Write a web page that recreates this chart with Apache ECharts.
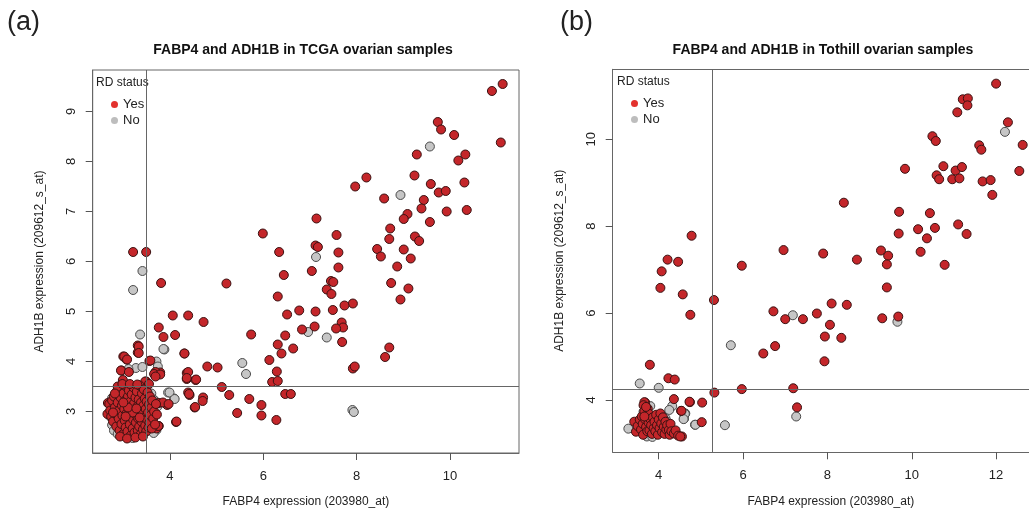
<!DOCTYPE html>
<html>
<head>
<meta charset="utf-8">
<script src="https://cdn.jsdelivr.net/npm/echarts@6/dist/echarts.min.js"></script>
<style>html,body{margin:0;padding:0;background:#fff}#c{width:1029px;height:514px}</style>
</head>
<body>
<div id="c"></div>
<script>
// ---- Data ----
const titleA = 'FABP4 and ADH1B in TCGA ovarian samples';
const titleB = 'FABP4 and ADH1B in Tothill ovarian samples';
const xName = 'FABP4 expression (203980_at)';
const yName = 'ADH1B expression (209612_s_at)';
const legendNames = ['Yes', 'No'];
const xTicksA = [4, 6, 8, 10];
const yTicksA = [3, 4, 5, 6, 7, 8, 9];
const xTicksB = [4, 6, 8, 10, 12];
const yTicksB = [4, 6, 8, 10];
const cutA = [3.5, 3.5];   // FABP4 cut, ADH1B cut
const cutB = [5.26, 4.25];

// Panel (a) TCGA, RD status Yes
const aYes = [
[11.13,9.55],[10.90,9.41],[11.09,8.38],[9.74,8.79],[9.81,8.64],[10.09,8.53],[9.29,8.14],[10.18,8.02],[10.33,8.14],
[9.24,7.72],[9.59,7.55],[10.31,7.58],[9.76,7.38],[9.91,7.41],[10.36,7.03],[9.93,7.00],[9.44,7.23],[9.39,7.06],[9.57,6.79],
[8.21,7.68],[7.97,7.50],[8.59,7.26],[9.09,6.95],[9.01,6.85],[8.72,6.66],[8.70,6.45],[9.25,6.50],[9.34,6.41],[8.44,6.25],
[8.52,6.10],[9.01,6.24],[9.16,6.06],[8.87,5.90],[8.74,5.57],[9.11,5.46],[8.94,5.24],[8.70,4.28],[8.61,4.09],[7.92,5.16],
[7.74,5.12],[7.68,4.78],[7.71,4.68],[7.69,4.39],[7.56,4.66],[7.49,5.03],[7.61,5.88],[7.61,6.18],[7.57,6.53],[7.14,6.86],
[7.12,6.32],[7.17,6.29],[7.04,5.81],[7.36,5.44],[7.45,5.61],[7.50,5.59],[7.46,5.35],[7.12,5.00],[7.10,4.70],[6.83,4.64],
[6.77,5.02],[6.51,4.94],[6.44,5.73],[6.34,6.19],[5.99,6.56],[6.31,5.30],[6.47,4.52],[6.64,4.26],[6.31,4.34],[6.39,4.16],
[6.13,4.03],[6.29,3.80],[6.19,3.59],[6.31,3.61],[6.47,3.35],[6.59,3.35],[5.96,3.13],[5.96,2.92],[6.28,2.83],[7.92,3.86],
[7.96,3.90],[5.70,3.25],[5.74,4.54],[5.21,5.56],[5.11,3.49],[5.27,3.33],[5.44,2.97],[5.02,3.88],[4.80,3.90],[4.72,4.79],
[4.39,4.92],[4.06,4.92],[4.11,4.53],[4.31,4.16],[4.36,3.77],[4.36,3.65],[4.55,3.63],[4.39,3.38],[4.42,3.33],[4.71,3.28],
[4.70,3.21],[4.53,3.08],[4.13,2.79],[3.94,3.13],[3.81,5.57],[3.76,4.68],[3.86,4.49],[3.79,3.78],[3.69,3.79],[3.56,4.01],
[3.49,6.19],[3.21,6.19],[3.31,4.32],[3.31,4.18],[3.00,4.10],[3.07,4.04],[2.96,3.82],[3.49,3.60],[3.76,3.17],[3.76,2.71],
[3.71,2.66],[2.99,3.63],[3.33,4.30],[3.33,4.17],[3.02,4.10],[3.08,4.04],[4.31,4.16],[2.95,3.82],[3.12,3.79],[3.58,4.02],
[3.66,3.75],[3.79,3.74],[3.69,3.70],[3.47,3.60],[3.55,3.55],[4.39,3.79],[4.36,3.67],[4.56,3.64],[3.85,3.18],[3.97,3.15],
[4.41,3.35],[4.54,3.09],[4.14,2.80],[3.75,2.71],[2.67,3.17],[2.66,2.95],
[2.70,3.15],[2.72,3.02],[2.74,2.90],[2.76,3.22],[2.78,2.80],[2.80,3.30],[2.82,3.08],[2.84,2.95],[2.85,2.70],[2.86,3.40],
[2.88,3.18],[2.90,2.86],[2.91,3.02],[2.92,2.62],[2.94,3.28],[2.95,3.45],[2.96,2.75],[2.97,3.12],[2.98,2.92],[3.00,3.36],
[3.00,2.55],[3.02,3.05],[3.03,2.82],[3.04,3.22],[3.05,2.68],[3.06,3.50],[3.07,2.96],[3.08,3.14],[3.09,2.60],[3.10,3.30],
[3.11,2.88],[3.12,3.42],[3.13,3.02],[3.14,2.74],[3.15,3.20],[3.16,2.52],[3.17,2.94],[3.18,3.34],[3.19,3.08],[3.20,2.66],
[3.21,2.84],[3.22,3.48],[3.23,3.16],[3.24,2.58],[3.25,3.00],[3.26,3.28],[3.27,2.78],[3.28,2.92],[3.29,3.40],[3.30,3.10],
[3.31,2.62],[3.32,2.86],[3.33,3.24],[3.34,2.70],[3.35,3.52],[3.36,3.02],[3.37,2.54],[3.38,3.18],[3.39,2.80],[3.40,3.36],
[3.41,2.95],[3.42,2.64],[3.43,3.12],[3.44,3.44],[3.45,2.88],[3.46,3.26],[3.47,2.72],[3.48,3.05],[3.49,2.60],[3.50,3.20],
[3.51,2.84],[3.52,3.38],[3.53,2.98],[3.54,2.68],[3.55,3.14],[3.56,2.78],[3.57,3.30],[3.58,2.92],[3.60,3.08],[3.61,2.66],
[3.62,3.22],[3.64,2.86],[3.66,3.00],[3.68,2.74],[3.70,3.15],[3.72,2.94],[2.88,3.50],[2.98,3.55],[3.14,3.55],[3.30,3.54],
[2.78,2.98],[2.82,3.36],[2.93,2.50],[3.08,2.46],[3.26,2.48],[3.42,2.50],[3.20,2.98],[3.10,3.08],[3.00,3.18],[3.35,2.88],
[3.05,2.90],[3.28,3.06]
];
// Panel (a) TCGA, RD status No
const aNo = [
[9.57,8.30],[8.94,7.33],[7.36,4.48],[7.13,6.09],[6.96,4.59],[7.91,3.03],[7.94,2.99],[5.55,3.97],[5.63,3.75],
[3.88,4.24],[3.86,4.25],[3.96,3.38],[4.09,3.26],[3.71,4.00],[3.74,3.90],[3.41,5.81],[3.21,5.43],[3.36,4.54],
[3.27,3.87],[3.41,3.89],[3.11,3.85],[3.66,3.23],[3.73,3.10],[3.71,2.63],[3.99,3.38],[4.10,3.25],[3.65,3.23],
[2.72,2.90],[2.76,2.73],[2.76,3.27],[2.80,2.62],[2.84,3.12],[2.88,2.55],[2.95,2.68],[3.00,2.52],[3.04,2.78],
[3.10,2.58],[3.15,3.10],[3.20,2.47],[3.18,2.70],[3.30,2.56],[3.36,2.66],[3.45,2.58],[3.52,2.75],[3.65,2.57],
[3.60,3.36],[3.48,3.46],[2.90,3.20],[3.38,3.00]
];
// Panel (b) Tothill, RD status Yes
const bYes = [
[12.00,11.28],[11.21,10.92],[11.33,10.94],[11.32,10.78],[11.08,10.62],[12.28,10.39],[12.63,9.87],[10.49,10.07],[10.57,9.96],
[11.60,9.86],[11.65,9.76],[9.84,9.32],[10.75,9.38],[11.04,9.28],[11.19,9.36],[10.59,9.17],[10.65,9.08],[10.96,9.08],
[11.13,9.10],[11.68,9.03],[11.87,9.06],[12.55,9.27],[11.91,8.72],[9.70,8.33],[10.43,8.30],[8.39,8.54],[10.15,7.93],
[10.55,7.96],[11.10,8.04],[9.69,7.83],[11.30,7.82],[10.36,7.72],[10.21,7.41],[10.78,7.11],[9.27,7.44],[9.44,7.32],
[9.41,7.12],[9.41,6.59],[8.70,7.23],[7.90,7.37],[6.96,7.45],[5.97,7.09],[9.30,5.88],[9.68,5.92],[8.10,6.22],[8.46,6.19],
[6.72,6.04],[7.00,5.86],[7.42,5.86],[7.75,5.99],[8.06,5.73],[7.94,5.46],[8.33,5.43],[6.76,5.24],[6.48,5.07],[7.93,4.89],
[5.31,6.30],[5.97,4.25],[5.32,4.17],[7.19,4.27],[7.28,3.83],[4.78,7.78],[4.21,7.23],[4.46,7.18],[4.07,6.96],[4.04,6.58],
[4.57,6.43],[4.75,5.96],[3.79,4.81],[4.23,4.50],[4.38,4.47],[4.36,4.02],[4.74,3.95],[5.03,3.94],[5.02,3.49],[4.53,3.75],
[4.55,3.16],[4.54,3.75],[4.73,3.96],[3.68,3.94],[3.66,3.95],
[3.42,3.50],[3.46,3.27],[3.50,3.40],[3.55,3.55],[3.58,3.32],[3.60,3.62],[3.62,3.45],[3.63,3.20],[3.64,3.88],[3.66,3.74],
[3.68,3.55],[3.70,3.38],[3.72,3.62],[3.73,3.28],[3.74,3.80],[3.76,3.48],[3.77,3.68],[3.78,3.30],[3.80,3.56],[3.82,3.42],
[3.84,3.22],[3.86,3.60],[3.88,3.35],[3.90,3.50],[3.92,3.28],[3.94,3.66],[3.96,3.42],[3.98,3.20],[4.00,3.55],[4.02,3.35],
[4.04,3.69],[4.06,3.46],[4.08,3.26],[4.10,3.60],[4.12,3.38],[4.14,3.22],[4.16,3.50],[4.18,3.32],[4.20,3.42],[4.24,3.31],
[4.26,3.20],[4.28,3.45],[4.30,3.28],[4.36,3.23],[4.40,3.30],[4.46,3.18],[4.51,3.16],[3.70,3.84],[3.66,3.62]
];
// Panel (b) Tothill, RD status No
const bNo = [
[12.21,10.17],[9.66,5.80],[7.18,5.95],[5.71,5.26],[7.26,3.62],[5.57,3.42],[3.55,4.38],[4.00,4.28],[4.86,3.43],
[4.63,3.69],[4.60,3.57],[3.28,3.34],[3.64,3.73],[3.80,3.86],[4.32,3.86],[4.25,3.77],[4.62,3.68],[4.59,3.56],
[4.87,3.43],[3.72,3.16],[4.16,3.58],[3.90,3.42],[4.02,3.30],[3.55,3.38],[3.85,3.15],[4.20,3.50]
];

// ---- Chart ----
const FONT = '"Liberation Sans", Arial, sans-serif';
const red = {color: '#c4262a', borderColor: '#3a1212', borderWidth: 1, opacity: 1};
const gray = {color: '#c6c6c6', borderColor: '#4a4a4a', borderWidth: 1, opacity: 1};

function xAxisFor(gi, min, max, ticks, namePad) {
  return {
    gridIndex: gi, type: 'value', min: min, max: max,
    axisLine: {show: true, lineStyle: {color: '#666'}},
    splitLine: {show: false},
    axisTick: {show: true, customValues: ticks, length: 7, lineStyle: {color: '#555'}},
    axisLabel: {customValues: ticks, margin: 17, fontSize: 13, color: '#222', fontFamily: FONT},
    name: xName, nameLocation: 'middle', nameGap: 43,
    nameTextStyle: {fontSize: 12, color: '#222', fontFamily: FONT, padding: [0, 0, 0, namePad]}
  };
}
function topBorderAxis(gi, min, max) {
  return {
    gridIndex: gi, type: 'value', position: 'top', min: min, max: max,
    axisLine: {show: true, onZero: false, lineStyle: {color: '#666'}},
    axisTick: {show: false}, axisLabel: {show: false}, splitLine: {show: false}
  };
}
function yAxisFor(gi, min, max, ticks) {
  return {
    gridIndex: gi, type: 'value', min: min, max: max,
    axisLine: {show: true, lineStyle: {color: '#666'}},
    splitLine: {show: false},
    axisTick: {show: true, customValues: ticks, length: 7, lineStyle: {color: '#555'}},
    axisLabel: {customValues: ticks, rotate: 90, margin: 15, fontSize: 13, color: '#222', fontFamily: FONT},
    name: yName, nameLocation: 'middle', nameGap: 47,
    nameTextStyle: {fontSize: 12, color: '#222', fontFamily: FONT}
  };
}
function legendFor(left, top) {
  return {
    left: left, top: top, orient: 'vertical', icon: 'circle', itemWidth: 7, itemHeight: 7, itemGap: 3,
    selectedMode: false,
    textStyle: {fontSize: 13, color: '#222', fontFamily: FONT, padding: [0, 0, 0, 0]},
    data: [
      {name: legendNames[0], itemStyle: {color: '#e3322e', borderWidth: 0}},
      {name: legendNames[1], itemStyle: {color: '#bdbdbd', borderWidth: 0}}
    ]
  };
}
function cutSeries(xi, cut) {
  return {
    type: 'scatter', xAxisIndex: xi, yAxisIndex: xi, data: [], silent: true, z: 10,
    markLine: {
      silent: true, symbol: ['none', 'none'], animation: false,
      label: {show: false},
      lineStyle: {color: '#666', type: 'solid', width: 1},
      data: [{xAxis: cut[0]}, {yAxis: cut[1]}]
    }
  };
}

const chart = echarts.init(document.getElementById('c'), null, {renderer: 'canvas'});
chart.setOption({
  animation: false,
  backgroundColor: '#fff',
  textStyle: {fontFamily: FONT},
  grid: [
    {left: 92.7, top: 70, width: 426.3, height: 383, show: true, borderColor: '#666', borderWidth: 1, containLabel: false},
    {left: 612.7, top: 69.3, right: 0, height: 383, show: false, containLabel: false}
  ],
  xAxis: [
    xAxisFor(0, 2.344, 11.48, xTicksA, 0),
    xAxisFor(1, 2.909, 12.78, xTicksB, 20),
    topBorderAxis(1, 2.909, 12.78)
  ],
  yAxis: [yAxisFor(0, 2.17, 9.83, yTicksA), yAxisFor(1, 2.796, 11.61, yTicksB)],
  legend: [legendFor(106, 93), legendFor(626, 92)],
  series: [
    {name: 'No', type: 'scatter', xAxisIndex: 0, yAxisIndex: 0, data: aNo, symbolSize: 9, itemStyle: gray},
    {name: 'Yes', type: 'scatter', xAxisIndex: 0, yAxisIndex: 0, data: aYes, symbolSize: 9, itemStyle: red},
    {name: 'No', type: 'scatter', xAxisIndex: 1, yAxisIndex: 1, data: bNo, symbolSize: 9, itemStyle: gray},
    {name: 'Yes', type: 'scatter', xAxisIndex: 1, yAxisIndex: 1, data: bYes, symbolSize: 9, itemStyle: red},
    cutSeries(0, cutA),
    cutSeries(1, cutB)
  ],
  graphic: [
    {type: 'text', left: 7, top: 9, style: {text: '(a)', fontSize: 27, fill: '#222', fontFamily: FONT}},
    {type: 'text', left: 560, top: 9, style: {text: '(b)', fontSize: 27, fill: '#222', fontFamily: FONT}},
    {type: 'text', x: 303, y: 50, style: {text: titleA, fontSize: 14, fontWeight: 'bold', fill: '#111', fontFamily: FONT, align: 'center', verticalAlign: 'middle'}},
    {type: 'text', x: 823, y: 50, style: {text: titleB, fontSize: 14, fontWeight: 'bold', fill: '#111', fontFamily: FONT, align: 'center', verticalAlign: 'middle'}},
    {type: 'text', x: 96, y: 83, style: {text: 'RD status', fontSize: 12, fill: '#222', fontFamily: FONT, verticalAlign: 'middle'}},
    {type: 'text', x: 617, y: 82, style: {text: 'RD status', fontSize: 12, fill: '#222', fontFamily: FONT, verticalAlign: 'middle'}}
  ]
});
</script>
</body>
</html>
